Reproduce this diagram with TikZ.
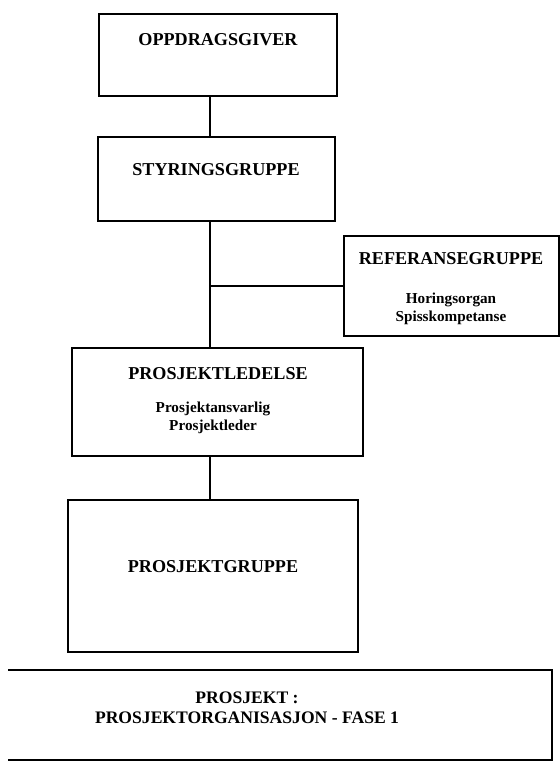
\documentclass[tikz,border=0pt]{standalone}
\usepackage{fontspec}
\setmainfont{Liberation Serif}

\begin{document}
\begin{tikzpicture}[x=0.75pt,y=0.75pt,yscale=-1,xscale=1]
\tikzset{
  boks/.style={draw, line width=0.8pt, inner sep=0pt},
  tittel/.style={inner sep=0.75pt, font=\bfseries\fontsize{13.6}{16}\selectfont},
  undertekst/.style={inner sep=0.75pt, align=center, font=\bfseries\fontsize{11.4}{13.2}\selectfont},
  strek/.style={line width=0.8pt},
}
\path [use as bounding box] (0,0) rectangle (560,767);

%Boxes
\node [boks, minimum width=178.5pt, minimum height=61.5pt] (oppdrag) at (218,55) {};
\node [boks, minimum width=177.75pt, minimum height=63pt] (styring) at (216.5,179) {};
\node [boks, minimum width=161.25pt, minimum height=75pt] (referanse) at (451.5,286) {};
\node [boks, minimum width=218.25pt, minimum height=81pt] (ledelse) at (217.5,402) {};
\node [boks, minimum width=217.5pt, minimum height=114pt] (gruppe) at (213,576) {};
%Bottom frame (left side cut off)
\draw [strek] (8,670) -- (552,670) -- (552,760) -- (8,760) ;

%Connectors
\coordinate (stamme) at (210,286);
\draw [strek] (oppdrag.south -| stamme) -- (styring.north -| stamme) ;
\draw [strek] (styring.south -| stamme) -- (ledelse.north -| stamme) ;
\draw [strek] (stamme) -- (stamme -| referanse.west) ;
\draw [strek] (ledelse.south -| stamme) -- (gruppe.north -| stamme) ;

% Text Node
\node [tittel] (t-oppdrag) at (218,40) {OPPDRAGSGIVER};
% Text Node
\node [tittel] (t-styring) at (216,170) {STYRINGSGRUPPE};
% Text Node
\node [tittel] (t-referanse) at (451,259) {REFERANSEGRUPPE};
% Text Node
\node [undertekst] (u-referanse) at (451,309) {Horingsorgan\\Spisskompetanse};
% Text Node
\node [tittel] (t-ledelse) at (218,374) {PROSJEKTLEDELSE};
% Text Node
\node [undertekst] (u-ledelse) at (213,418) {Prosjektansvarlig\\Prosjektleder};
% Text Node
\node [tittel] (t-gruppe) at (213,567) {PROSJEKTGRUPPE};
% Text Node
\node [tittel, align=center, font=\bfseries\fontsize{13.2}{15}\selectfont] (t-fase) at (247,708) {PROSJEKT :\\PROSJEKTORGANISASJON - FASE 1};

\end{tikzpicture}
\end{document}
